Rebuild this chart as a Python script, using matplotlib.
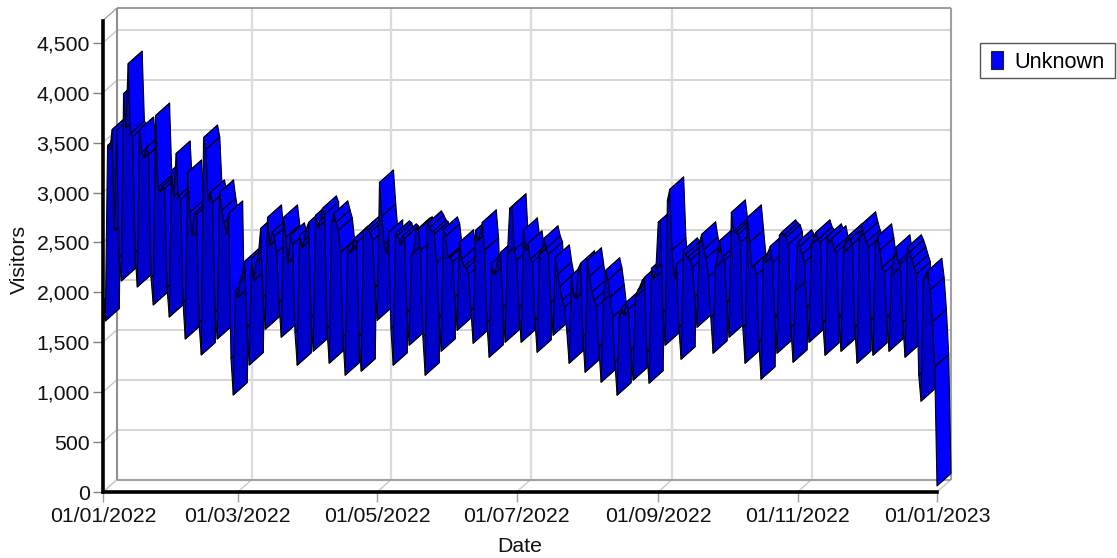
import datetime as dt
import numpy as np
import matplotlib
matplotlib.use("Agg")
import matplotlib.pyplot as plt
import matplotlib.dates as mdates
from matplotlib.collections import PolyCollection
from matplotlib.patches import Patch, Rectangle
from matplotlib.ticker import FuncFormatter

plt.rcParams['font.family'] = ['Liberation Sans', 'DejaVu Sans']

start_date = dt.date(2022, 1, 1)
tick_dates = [dt.date(2022, 1, 1), dt.date(2022, 3, 1), dt.date(2022, 5, 1), dt.date(2022, 7, 1),
              dt.date(2022, 9, 1), dt.date(2022, 11, 1), dt.date(2023, 1, 1)]
y_ticks = [0, 500, 1000, 1500, 2000, 2500, 3000, 3500, 4000, 4500]
series_name = "Unknown"

# one row per week, Saturday to Friday
visitors = [
    1920, 1713, 3470, 3430, 3630, 2620, 3620,
    2350, 2114, 3990, 3650, 4290, 3590, 3560,
    2400, 2054, 3630, 3400, 3350, 3450, 3380,
    2150, 1874, 3770, 3050, 3010, 3060, 3040,
    2050, 1753, 3220, 2960, 3390, 2960, 2930,
    1900, 1533, 3200, 2800, 2570, 2790, 2780,
    1700, 1373, 3550, 3430, 2920, 3000, 2900,
    1800, 1533, 3000, 2820, 2700, 2590, 2790,
    1340, 972, 2020, 1950, 2110, 2180, 2310,
    1650, 1272, 2340, 2120, 2300, 2380, 2640,
    1950, 1630, 2750, 2470, 2600, 2560, 2400,
    1900, 1550, 2750, 2550, 2300, 2570, 2480,
    1600, 1270, 2570, 2450, 2520, 2640, 2700,
    1750, 1410, 2770, 2650, 2720, 2840, 2780,
    1640, 1290, 2700, 2790, 2700, 2620, 2400,
    1550, 1170, 2450, 2400, 2440, 2540, 2500,
    1560, 1210, 2620, 2640, 2620, 2600, 2520,
    2050, 1720, 3100, 2760, 2480, 2390, 2600,
    1640, 1270, 2590, 2570, 2480, 2560, 2540,
    1800, 1470, 2380, 2400, 2620, 2630, 2420,
    1550, 1170, 2690, 2650, 2600, 2580, 2300,
    1750, 1410, 2630, 2560, 2350, 2350, 2300,
    1950, 1620, 2500, 2330, 2260, 2240, 2180,
    1820, 1490, 2620, 2520, 2580, 2700, 2420,
    1700, 1350, 2290, 2180, 2250, 2350, 2400,
    1850, 1500, 2390, 2840, 2860, 2420, 2320,
    1850, 1500, 2620, 2420, 2490, 2330, 2300,
    1720, 1400, 2380, 2440, 2540, 2440, 2380,
    1900, 1570, 2350, 2180, 2060, 1920, 1850,
    1600, 1290, 2170, 1960, 1940, 2240, 2290,
    1550, 1200, 2320, 2160, 2000, 1920, 1850,
    1450, 1100, 1920, 2220, 2120, 1950, 1750,
    1300, 970, 1770, 1850, 1770, 1900, 1830,
    1420, 1120, 1950, 2020, 2060, 2120, 2150,
    1400, 1090, 2240, 2140, 2240, 2700, 2720,
    1800, 1470, 2920, 3030, 2420, 2140, 2280,
    1650, 1330, 2420, 2380, 2350, 2320, 2250,
    1950, 1650, 2500, 2580, 2430, 2340, 2150,
    1750, 1390, 2250, 2400, 2520, 2350, 2320,
    1900, 1550, 2800, 2610, 2600, 2580, 2500,
    1650, 1290, 2750, 2500, 2250, 2270, 2170,
    1500, 1130, 2350, 2300, 2400, 2460, 2300,
    1750, 1390, 2570, 2600, 2570, 2550, 2480,
    1650, 1300, 2020, 2500, 2460, 2380, 2300,
    1850, 1500, 2480, 2550, 2600, 2530, 2500,
    1700, 1370, 2560, 2500, 2540, 2430, 2400,
    1750, 1410, 2400, 2500, 2560, 2530, 2480,
    1650, 1290, 2550, 2680, 2580, 2500, 2450,
    1720, 1370, 2500, 2560, 2420, 2250, 2200,
    1750, 1410, 2170, 2350, 2450, 2300, 2280,
    1700, 1350, 2450, 2400, 2330, 2250, 2180,
    1170, 910, 2130, 2180, 2215, 2024, 1703,
    1252, 60,
]

W, H = 1117, 558
fig = plt.figure(figsize=(W / 100, H / 100), dpi=100)
L_PX, R_PX, B_PX, T_PX = 103, 937, 492, 20.5
ax = fig.add_axes([L_PX / W, 1 - B_PX / H, (R_PX - L_PX) / W, (B_PX - T_PX) / H])

x0 = mdates.date2num(start_date)
x = x0 + np.arange(len(visitors))
y = np.array(visitors, dtype=float)
x1 = mdates.date2num(tick_dates[-1])
ymax = 4723
ax.set_xlim(x0, x1)
ax.set_ylim(0, ymax)

# depth of the pseudo-3D box, in data units
dx = 14 / ((R_PX - L_PX) / (x1 - x0))
dy = 12.5 / ((B_PX - T_PX) / ymax)

line = dict(clip_on=False, solid_capstyle='butt')
hc, vc, bc = '#c9c9c9', '#dcdcdc', '#a0a0a0'
for v in y_ticks[1:]:
    ax.plot([x0 + dx, x1 + dx], [v + dy, v + dy], color=hc, lw=1.1, zorder=1, **line)
for v in y_ticks:
    ax.plot([x0, x0 + dx], [v, v + dy], color=hc, lw=1.0, zorder=1, **line)
for d in tick_dates[1:-1]:
    t = mdates.date2num(d)
    ax.plot([t + dx, t + dx], [dy, ymax + dy], color=vc, lw=1.7, zorder=1, **line)
for d in tick_dates:
    t = mdates.date2num(d)
    ax.plot([t, t + dx], [0, dy], color=hc, lw=1.0, zorder=1, **line)
ax.plot([x0 + dx, x0 + dx], [dy, ymax + dy], color='#909090', lw=1.5, zorder=1.5, **line)
ax.plot([x0 + dx, x1 + dx], [ymax + dy, ymax + dy], color='#808080', lw=1.1, zorder=1.5, **line)
ax.plot([x1 + dx, x1 + dx], [dy, ymax + dy], color=bc, lw=1.5, zorder=1.5, **line)
ax.plot([x0 + dx, x1 + dx], [dy, dy], color=bc, lw=1.5, zorder=1.5, **line)
ax.plot([x0, x0 + dx], [ymax, ymax + dy], color='#909090', lw=0.8, zorder=1.5, **line)

polys, faces = [], []
for i in range(len(x) - 1):
    polys.append([(x[i], y[i]), (x[i + 1], y[i + 1]),
                  (x[i + 1] + dx, y[i + 1] + dy), (x[i] + dx, y[i] + dy)])
    faces.append('#0000cd' if y[i + 1] > y[i] else '#0000ff')
ribbon = PolyCollection(polys, facecolors=faces, edgecolors='black', linewidths=0.8,
                        zorder=3, clip_on=False)
ax.add_collection(ribbon)

for s in ('top', 'right'):
    ax.spines[s].set_visible(False)
for s in ('left', 'bottom'):
    ax.spines[s].set_linewidth(2.6)
    ax.spines[s].set_color('black')
    ax.spines[s].set_zorder(4)

ax.set_xticks([mdates.date2num(d) for d in tick_dates])
ax.xaxis.set_major_formatter(mdates.DateFormatter('%d/%m/%Y'))
ax.set_yticks(y_ticks)
ax.yaxis.set_major_formatter(FuncFormatter(lambda v, _: f'{int(v):,}'))
ax.tick_params(axis='x', length=7.5, width=1, color='#a0a0a0', labelsize=15.3, pad=3, labelcolor='#111111')
ax.tick_params(axis='y', length=7.5, width=1, color='#808080', labelsize=15.3, pad=2, labelcolor='#111111')
ax.set_xlabel('Date', fontsize=15.3, color='#111111', labelpad=8)
ax.set_ylabel('Visitors', fontsize=15.3, color='#111111')
ax.yaxis.set_label_coords(29 / W, 1 - 259 / H, transform=fig.transFigure)

fig.add_artist(Rectangle((980 / W, 1 - 78 / H), 135 / W, 35 / H, transform=fig.transFigure,
                         facecolor='white', edgecolor='#555555', linewidth=1.0, zorder=5))
leg = fig.legend(handles=[Patch(facecolor='#0000ff', edgecolor='#222222', linewidth=0.8, label=series_name)],
                 loc='center left', bbox_to_anchor=(991 / W, 1 - 62 / H), bbox_transform=fig.transFigure,
                 fontsize=15.7, frameon=False, borderpad=0, borderaxespad=0,
                 handlelength=0.56, handleheight=0.84, handletextpad=0.5)
leg.set_zorder(6)

fig.savefig('out.png', dpi=100)
